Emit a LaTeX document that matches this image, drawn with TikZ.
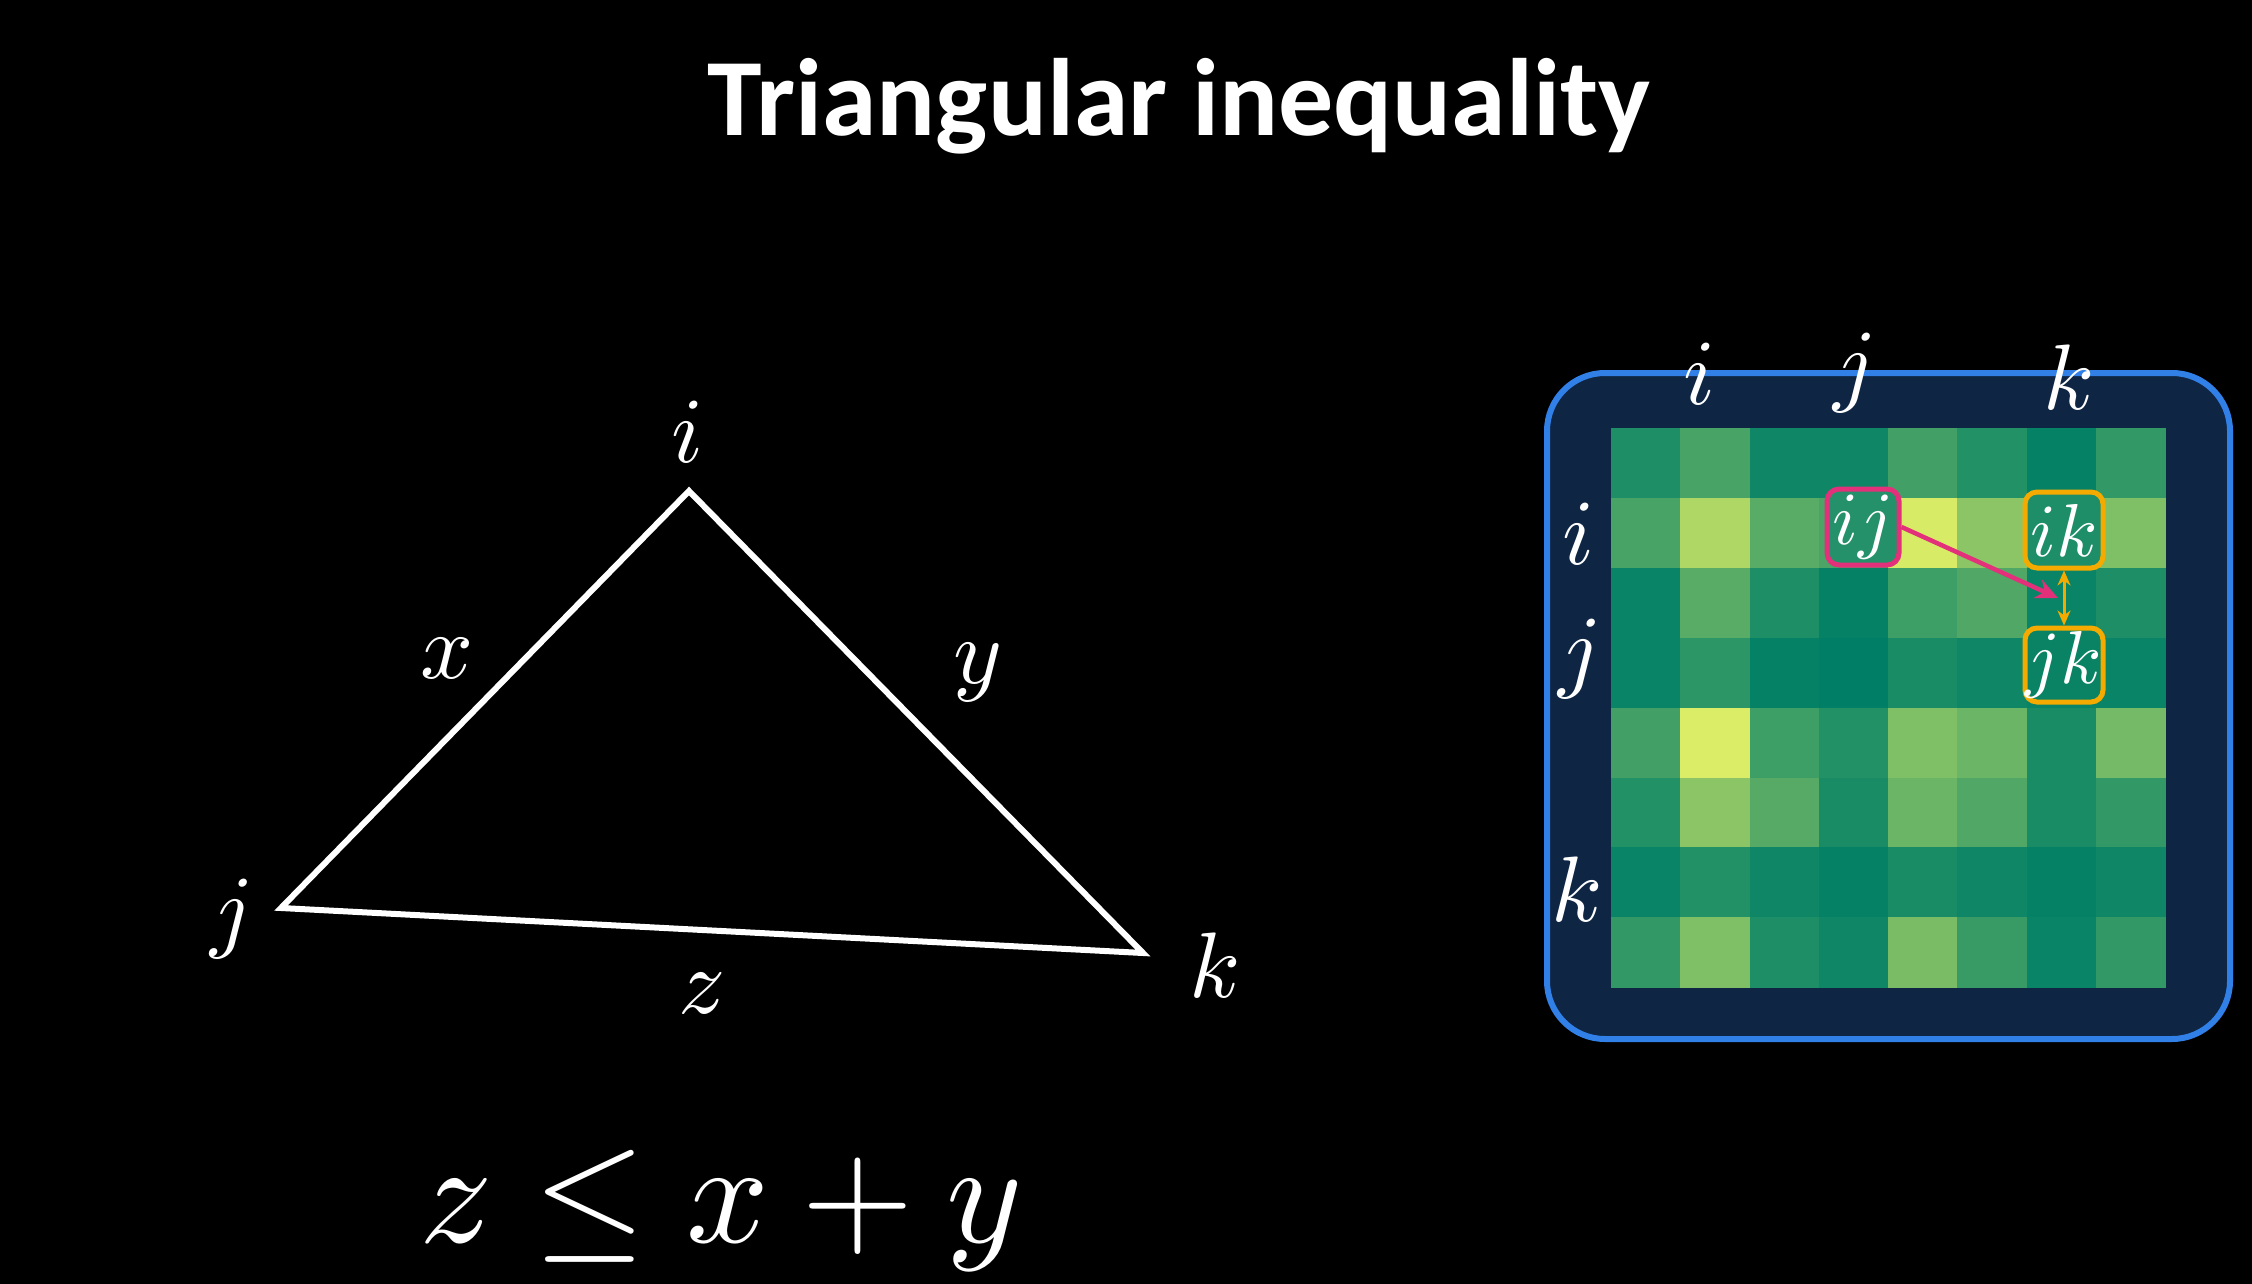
\documentclass[tikz,border=0pt]{standalone}
\usepackage{fontspec}
\usepackage{graphicx}
\newfontfamily\titlefont{Carlito}
\usetikzlibrary{arrows.meta}
\definecolor{navy}{RGB}{14,37,68}
\definecolor{panelblue}{RGB}{48,128,232}
\definecolor{pinkc}{RGB}{226,48,122}
\definecolor{orangec}{RGB}{245,170,0}
\definecolor{ijfill}{RGB}{36,145,106}
\definecolor{ikfill}{RGB}{30,142,104}
\definecolor{jkfill}{RGB}{10,131,100}
\tikzset{
  lbl/.style={text=white, inner sep=0pt},
  cellbox/.style={draw, line width=5pt, rounded corners=12pt, inner sep=0pt, text=white},
}
\begin{document}
\begin{tikzpicture}[x=1pt,y=-1pt]
\useasboundingbox (0,0) rectangle (2252,1284);
\fill[black] (0,0) rectangle (2252,1284);

% title
\node[lbl, anchor=base] (title) at (1179,136) {\scalebox{11}{\titlefont\bfseries Triangular inequality}};

% triangle
\coordinate (I) at (689,491);
\coordinate (J) at (281,908);
\coordinate (K) at (1143,953);
\draw[white, line width=6pt, line join=miter] (I) -- (J) -- (K) -- cycle;
\node[lbl, anchor=base] (li) at (688,462) {\scalebox{9.3}{$i$}};
\node[lbl, anchor=base] (lx) at (447,678) {\scalebox{9.3}{$x$}};
\node[lbl, anchor=base] (ly) at (978,683) {\scalebox{9.3}{$y$}};
\node[lbl, anchor=base] (lj) at (232,940) {\scalebox{9.3}{$j$}};
\node[lbl, anchor=base] (lk) at (1215,997) {\scalebox{9.3}{$k$}};
\node[lbl, anchor=base] (lz) at (702,1013) {\scalebox{9.3}{$z$}};

% formula
\node[lbl, anchor=base] (formula) at (721,1242) {\scalebox{14.5}{$z \leq x + y$}};

% matrix panel
\node[draw=panelblue, fill=navy, line width=6pt, rounded corners=58pt,
      minimum width=683pt, minimum height=666pt, inner sep=0pt] (panel) at (1888.5,706) {};
\foreach \row [count=\r from 0] in {
  {0.12,0.28,0.06,0.06,0.26,0.14,0.02,0.20},
  {0.28,0.69,0.35,0.30,0.85,0.55,0.30,0.50},
  {0.04,0.35,0.12,0.02,0.24,0.32,0.04,0.12},
  {0.04,0.18,0.02,0.00,0.10,0.06,0.04,0.04},
  {0.26,0.86,0.24,0.14,0.50,0.42,0.10,0.46},
  {0.14,0.55,0.34,0.10,0.42,0.32,0.10,0.20},
  {0.04,0.14,0.06,0.02,0.10,0.06,0.02,0.06},
  {0.20,0.50,0.12,0.06,0.48,0.22,0.04,0.20}} {
  \foreach \v [count=\c from 0] in \row {
    \pgfmathtruncatemacro\R{255*\v}
    \pgfmathtruncatemacro\G{127.5+127.5*\v}
    \definecolor{cellc}{RGB}{\R,\G,102}
    \fill[cellc] ({1611+69.25*\c},{428+69.9*\r}) rectangle ++(69.75,70.4);
  }
}

% axis labels
\node[lbl] (ti) at (1700,374) {\scalebox{9.3}{$i$}};
\node[lbl] (tj) at (1855,373) {\scalebox{9.3}{$j$}};
\node[lbl] (tk) at (2069,377) {\scalebox{9.3}{$k$}};
\node[lbl] (si) at (1579,534) {\scalebox{9.3}{$i$}};
\node[lbl] (sj) at (1580,659) {\scalebox{9.3}{$j$}};
\node[lbl] (sk) at (1577,889) {\scalebox{9.3}{$k$}};

% highlighted cells
\node[cellbox, draw=pinkc, fill=ijfill, minimum width=72pt, minimum height=76pt] (ij) at (1863,527) {\scalebox{7.5}{$ij$}};
\node[cellbox, draw=orangec, fill=ikfill, minimum width=78pt, minimum height=76pt] (ik) at (2064,530) {\scalebox{7.5}{$ik$}};
\node[cellbox, draw=orangec, fill=jkfill, minimum width=78pt, minimum height=74pt] (jk) at (2064,665) {\scalebox{7.5}{$jk$}};

% arrows
\coordinate (ptip) at (2058,598);
\draw[pinkc, line width=4.5pt, -{Stealth[length=22pt,width=20pt]}] (ij.east) -- (ptip);
\draw[orangec, line width=3pt, {Stealth[length=15pt,width=13pt]}-{Stealth[length=15pt,width=13pt]}] (ik.south) -- (jk.north);
\end{tikzpicture}
\end{document}
